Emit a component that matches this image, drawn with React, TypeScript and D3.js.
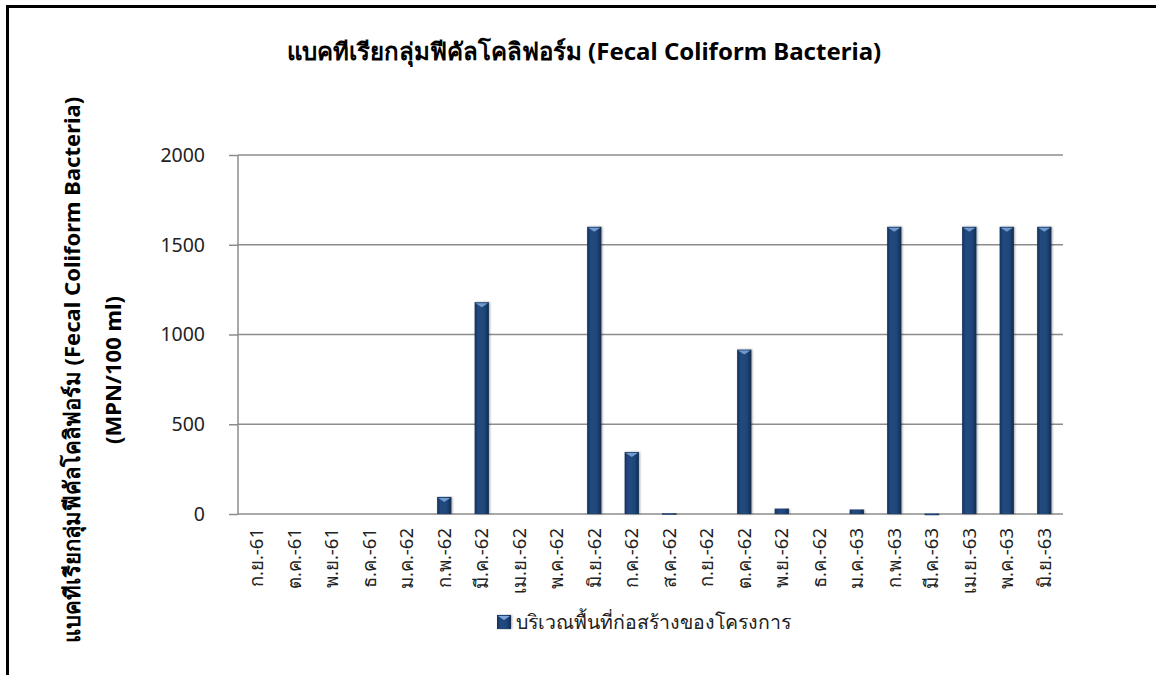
import { useEffect, useRef } from "react";
import * as d3 from "d3";

const months = [
  "ก.ย.-61", "ต.ค.-61", "พ.ย.-61", "ธ.ค.-61", "ม.ค.-62", "ก.พ.-62", "มี.ค.-62", "เม.ย.-62",
  "พ.ค.-62", "มิ.ย.-62", "ก.ค.-62", "ส.ค.-62", "ก.ย.-62", "ต.ค.-62", "พ.ย.-62", "ธ.ค.-62",
  "ม.ค.-63", "ก.พ.-63", "มี.ค.-63", "เม.ย.-63", "พ.ค.-63", "มิ.ย.-63",
];
const fecal = [0, 0, 0, 0, 0, 95, 1180, 0, 0, 1600, 345, 4, 0, 916, 30, 0, 25, 1600, 2, 1600, 1600, 1600];
const yTicks = [0, 500, 1000, 1500, 2000];
const seriesName = "บริเวณพื้นที่ก่อสร้างของโครงการ";
const title = "แบคทีเรียกลุ่มฟีคัลโคลิฟอร์ม (Fecal Coliform Bacteria)";
const yLabel1 = "แบคทีเรียกลุ่มฟีคัลโคลิฟอร์ม (Fecal Coliform Bacteria)";
const yLabel2 = "(MPN/100 ml)";

const width = 1156;
const height = 675;
const marginTop = 155;
const marginBottom = 161;
const marginLeft = 238;
const marginRight = 93;
const font = "Tahoma, 'Noto Sans', 'DejaVu Sans', sans-serif";

export default function App() {
  const gy = useRef(null);

  const x = d3.scaleBand()
    .domain(months)
    .range([marginLeft, width - marginRight])
    .paddingInner(0.62)
    .paddingOuter(0.31);

  const y = d3.scaleLinear()
    .domain([0, 2000])
    .range([height - marginBottom, marginTop]);

  useEffect(() => {
    const g = d3.select(gy.current);
    g.selectAll("*").remove();
    // @ts-ignore
    g.call(d3.axisLeft(y).tickValues(yTicks).tickFormat(d3.format("d")).tickSize(9).tickPadding(24))
      .call(g => g.select(".domain").attr("stroke", "#8c8c8c").attr("stroke-width", 1.5).attr("d", `M0,${y(0)}V${y(2000)}`))
      .call(g => g.selectAll(".tick line").attr("stroke", "#8c8c8c").attr("stroke-width", 1.5))
      .call(g => g.selectAll(".tick text").attr("font-size", 19.5).attr("font-family", font).attr("fill", "#222"));
  }, [y]);

  const bw = x.bandwidth();

  return (
    <svg width={width} height={height} style={{ position: "absolute", left: 0, top: 0, background: "#fff" }}>
      <defs>
        <linearGradient id="barGrad" x1="0" x2="1" y1="0" y2="0">
          <stop offset="0" stopColor="#14305a" />
          <stop offset="0.25" stopColor="#214a80" />
          <stop offset="0.7" stopColor="#1f4678" />
          <stop offset="1" stopColor="#112a4f" />
        </linearGradient>
        <filter id="shadow" x="-30%" y="-5%" width="160%" height="110%">
          <feDropShadow dx="1" dy="0" stdDeviation="1.2" floodColor="#000" floodOpacity="0.35" />
        </filter>
      </defs>

      {/* outer frame */}
      <rect x={7.5} y={6.5} width={width + 20} height={height + 20} fill="none" stroke="#000" strokeWidth={3} />

      <text x={584} y={60} textAnchor="middle" fontFamily={font} fontWeight="bold" fontSize={24} fill="#000">
        {title}
      </text>

      {/* gridlines */}
      <g>
        {yTicks.map(t => (
          <line key={t} x1={marginLeft} x2={width - marginRight} y1={y(t)} y2={y(t)} stroke="#8c8c8c" strokeWidth={1.5} />
        ))}
      </g>

      <g ref={gy} transform={`translate(${marginLeft},0)`} />

      {/* bars */}
      <g>
        {fecal.map((v, i) => {
          if (v <= 0) return null;
          const bx = x(months[i]);
          const by = y(v);
          const bh = y(0) - by;
          return (
            <g key={months[i]} filter="url(#shadow)">
              <rect x={bx} y={by} width={bw} height={Math.max(bh, 1.5)} fill="url(#barGrad)" />
              {bh > 6 && (
                <path
                  d={`M${bx + 1},${by + 1}H${bx + bw - 1}L${bx + bw / 2},${by + 5}Z`}
                  fill="#7fa9dc"
                  opacity={0.85}
                />
              )}
            </g>
          );
        })}
      </g>

      {/* category labels */}
      <g fontFamily={font} fontSize={18.5} fill="#222">
        {months.map(m => (
          <text
            key={m}
            transform={`translate(${x(m) + bw / 2},528) rotate(-90)`}
            textAnchor="end"
            dy="0.35em"
          >
            {m}
          </text>
        ))}
      </g>

      {/* y axis title */}
      <g fontFamily={font} fontWeight="bold" fontSize={22} fill="#000">
        <text transform={`translate(72,370) rotate(-90)`} textAnchor="middle" dy="0.35em">{yLabel1}</text>
        <text transform={`translate(113,370) rotate(-90)`} textAnchor="middle" dy="0.35em">{yLabel2}</text>
      </g>

      {/* legend */}
      <g>
        <rect x={497} y={615} width={14} height={14} fill="url(#barGrad)" filter="url(#shadow)" />
        <path d="M498,616H510L504,620Z" fill="#7fa9dc" />
        <text x={516} y={622} dy="0.35em" fontFamily={font} fontSize={19.5} fill="#222">{seriesName}</text>
      </g>
    </svg>
  );
}
